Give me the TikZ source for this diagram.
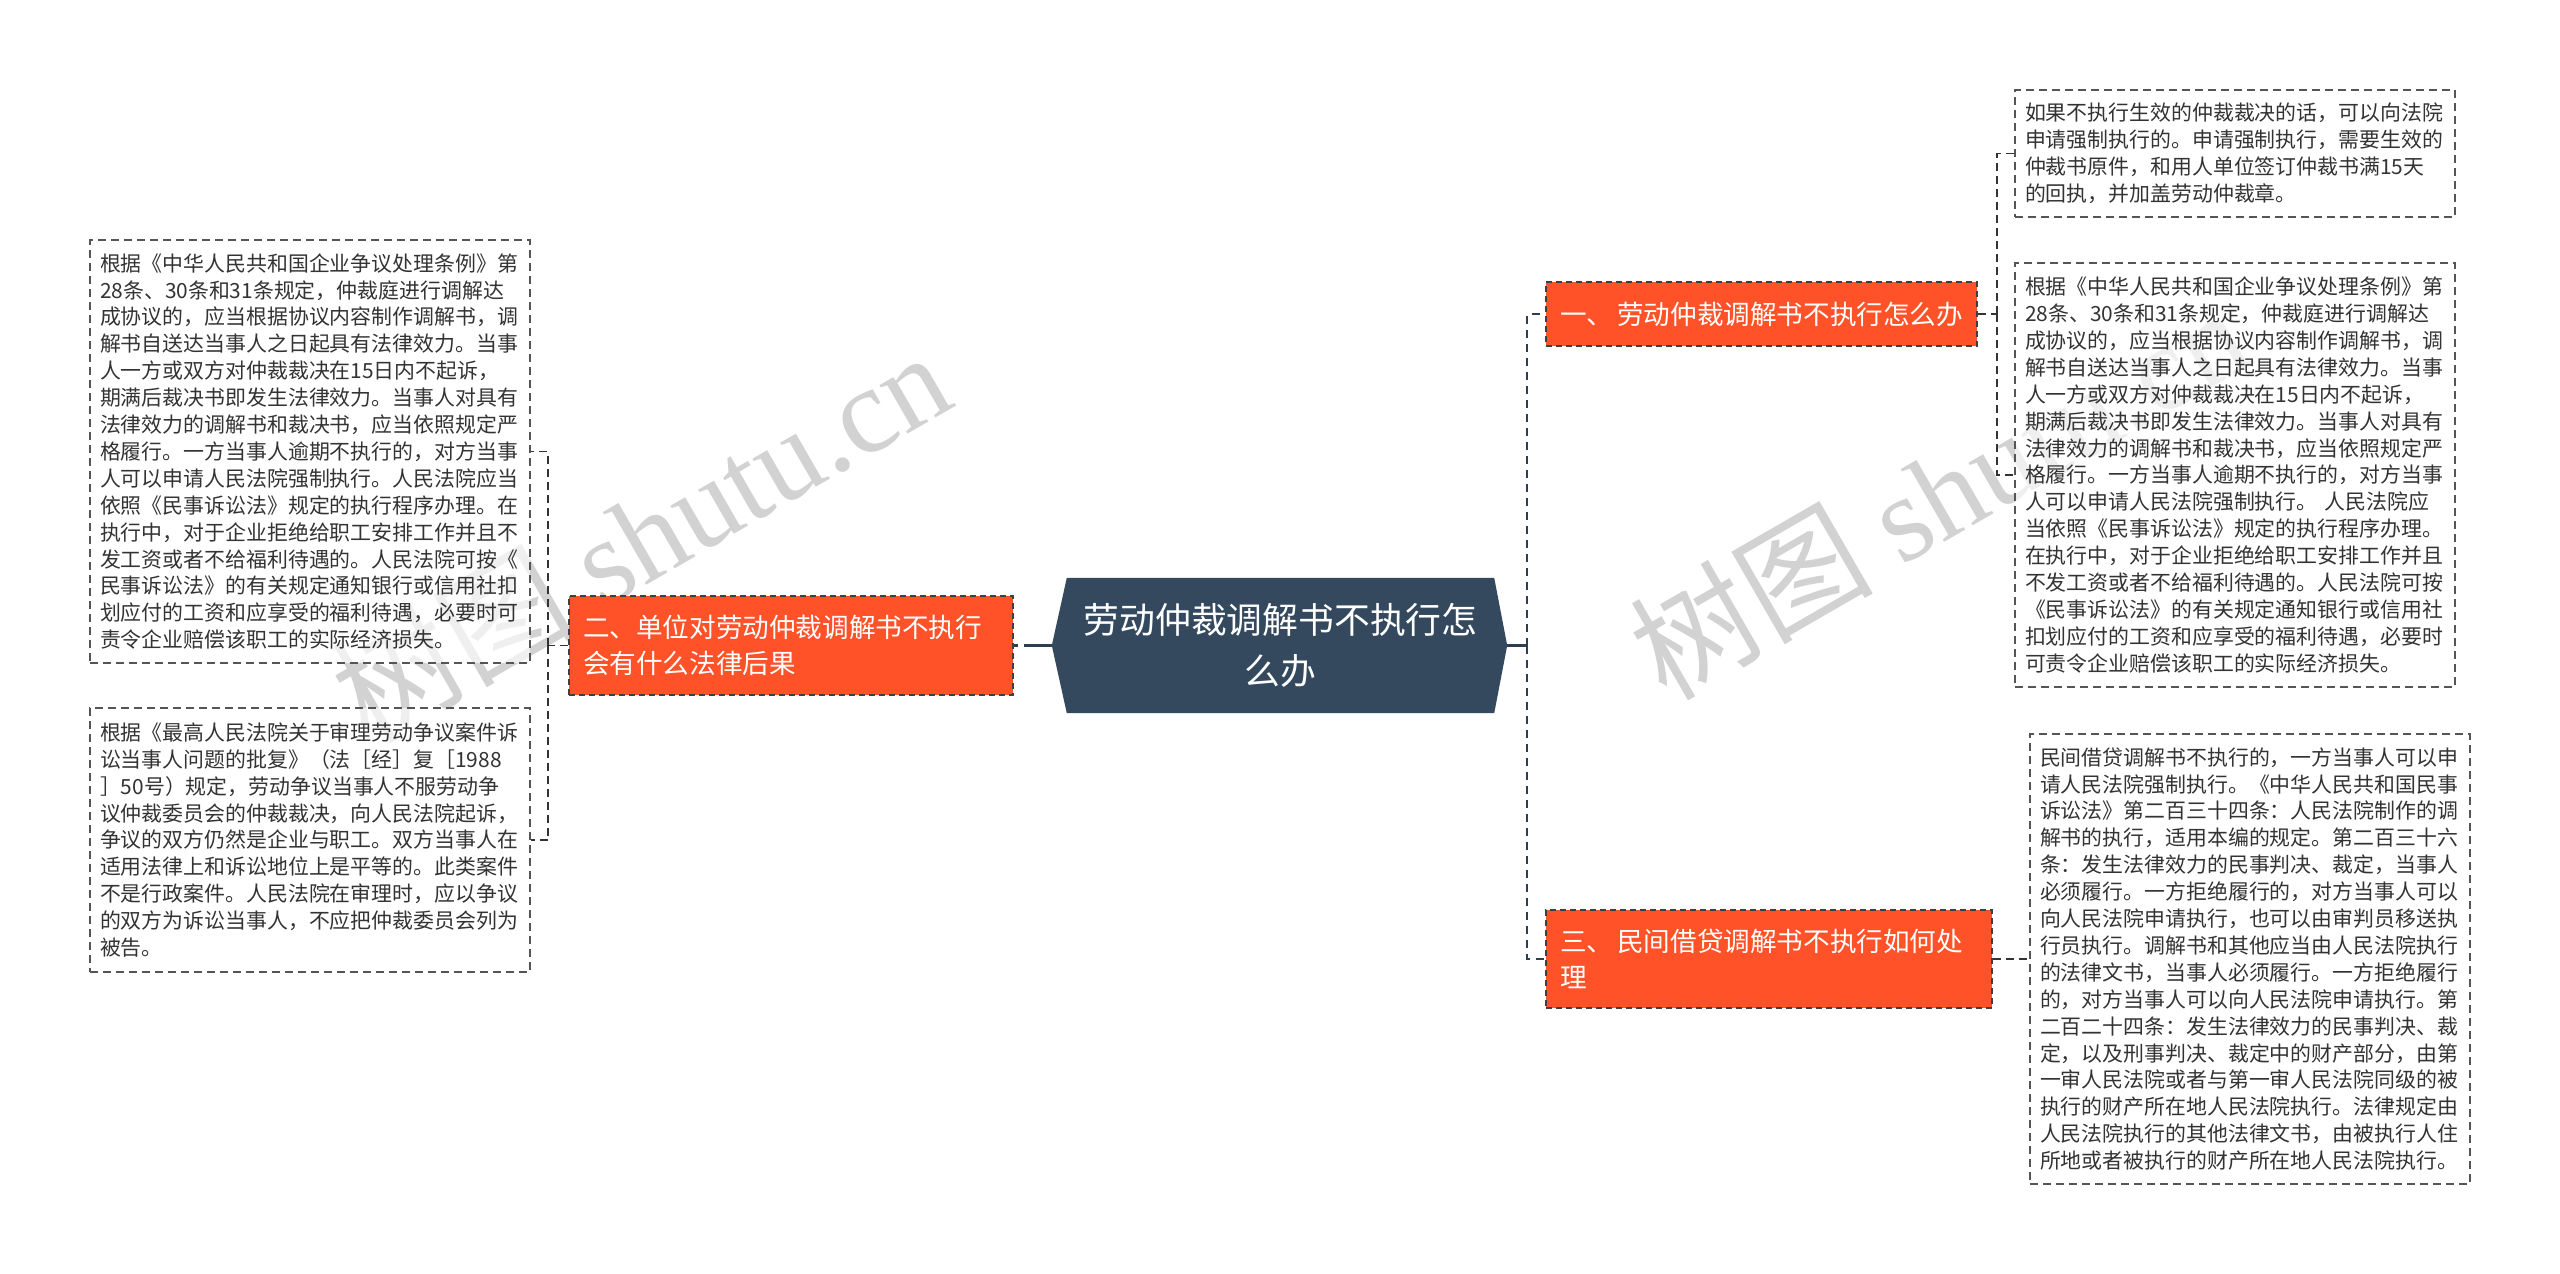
\documentclass[tikz,border=0pt]{standalone}
\usepackage{fontspec}
\setmainfont{Noto Sans CJK SC}
\newfontfamily\wmlatin{Liberation Serif}
\definecolor{cdark}{HTML}{34495E}
\definecolor{corange}{HTML}{FF5228}
\definecolor{ctext}{HTML}{333333}
\definecolor{cline}{HTML}{2C3E50}
\definecolor{cborder}{HTML}{555555}
\definecolor{cwm}{HTML}{D2D2D2}
\pgfdeclarelayer{bg}
\pgfsetlayers{bg,main}
\tikzset{
  leaf/.style={draw=cborder, line width=1.6pt, dash pattern=on 8pt off 5pt,
    fill=white, fill opacity=0.65, text opacity=1, text=ctext, align=left,
    text width=420pt, inner xsep=10pt, inner ysep=0pt,
    font=\fontsize{20.9pt}{26.9pt}\selectfont},
  branch/.style={fill=corange, draw=black!75, line width=1.4pt,
    dash pattern=on 6pt off 4pt, text=white, align=left, inner xsep=14pt,
    inner ysep=0pt, font=\fontsize{26.6pt}{35.5pt}\selectfont},
  ctr/.style={text=white, align=center, inner sep=0pt,
    minimum width=427pt, minimum height=135pt,
    font=\fontsize{35.8pt}{51pt}\selectfont},
  wm/.style={text=cwm, inner sep=0pt, font=\fontsize{122pt}{122pt}\selectfont},
  connL/.style={draw=black!80, line width=1.6pt, dash pattern=on 8pt off 5pt},
  connR/.style={draw=cline, line width=2.8pt, dash pattern=on 8pt off 6pt},
  cmain/.style={draw=cline, line width=2.6pt}
}
\begin{document}
\begin{tikzpicture}[x=1pt,y=-1pt]
\useasboundingbox (0,0) rectangle (2560,1274);

% central node
\node[ctr] (C) at (1280.5,645.5) {劳动仲裁调解书不执行怎\\么办};
\coordinate (Cl) at ([xshift=-15pt]C.west);
\coordinate (Cr) at ([xshift=13pt]C.east);

\begin{pgfonlayer}{bg}
  \fill[white] (0,0) rectangle (2560,1274);
  \node[wm, rotate=30] (W1) at (640,535) {树图 {\wmlatin shutu.cn}};
  \node[wm, rotate=30] (W2) at (1938,492) {树图 {\wmlatin shutu.cn}};
  \fill[cdark] (C.north west) -- (C.north east) -- (Cr) -- (C.south east)
     -- (C.south west) -- (Cl) -- cycle;
\end{pgfonlayer}

% branches
\node[branch, text width=416pt, minimum height=99pt] (B2) at (791,645.5)
  {二、单位对劳动仲裁调解书不执行\\会有什么法律后果};
\node[branch, text width=403pt, minimum height=64pt] (B1) at (1761.5,314)
  {\mbox{一、\hspace{4pt}劳动仲裁调解书不执行怎么办}};
\node[branch, text width=418pt, minimum height=98pt] (B3) at (1769,959)
  {\mbox{三、\hspace{4pt}民间借贷调解书不执行如何处}\\理};

% leaves left
\node[leaf, minimum height=423pt] (L1) at (310,451.5) {根据《中华人民共和国企业争议处理条例》第\\
28条、30条和31条规定，仲裁庭进行调解达\\
成协议的，应当根据协议内容制作调解书，调\\
解书自送达当事人之日起具有法律效力。当事\\
人一方或双方对仲裁裁决在15日内不起诉，\\
期满后裁决书即发生法律效力。当事人对具有\\
法律效力的调解书和裁决书，应当依照规定严\\
格履行。一方当事人逾期不执行的，对方当事\\
人可以申请人民法院强制执行。人民法院应当\\
依照《民事诉讼法》规定的执行程序办理。在\\
执行中，对于企业拒绝给职工安排工作并且不\\
发工资或者不给福利待遇的。人民法院可按《\\
民事诉讼法》的有关规定通知银行或信用社扣\\
划应付的工资和应享受的福利待遇，必要时可\\
责令企业赔偿该职工的实际经济损失。};

\node[leaf, minimum height=264pt] (L2) at (310,840) {根据《最高人民法院关于审理劳动争议案件诉\\
讼当事人问题的批复》（法［经］复［1988\\
］50号）规定，劳动争议当事人不服劳动争\\
议仲裁委员会的仲裁裁决，向人民法院起诉，\\
争议的双方仍然是企业与职工。双方当事人在\\
适用法律上和诉讼地位上是平等的。此类案件\\
不是行政案件。人民法院在审理时，应以争议\\
的双方为诉讼当事人，不应把仲裁委员会列为\\
被告。};

% leaves right
\node[leaf, minimum height=127pt] (R1) at (2235,153.5) {如果不执行生效的仲裁裁决的话，可以向法院\\
申请强制执行的。申请强制执行，需要生效的\\
仲裁书原件，和用人单位签订仲裁书满15天\\
的回执，并加盖劳动仲裁章。};

\node[leaf, minimum height=424pt] (R2) at (2235,475) {根据《中华人民共和国企业争议处理条例》第\\
28条、30条和31条规定，仲裁庭进行调解达\\
成协议的，应当根据协议内容制作调解书，调\\
解书自送达当事人之日起具有法律效力。当事\\
人一方或双方对仲裁裁决在15日内不起诉，\\
期满后裁决书即发生法律效力。当事人对具有\\
法律效力的调解书和裁决书，应当依照规定严\\
格履行。一方当事人逾期不执行的，对方当事\\
人可以申请人民法院强制执行。~人民法院应\\
当依照《民事诉讼法》规定的执行程序办理。\\
在执行中，对于企业拒绝给职工安排工作并且\\
不发工资或者不给福利待遇的。人民法院可按\\
《民事诉讼法》的有关规定通知银行或信用社\\
扣划应付的工资和应享受的福利待遇，必要时\\
可责令企业赔偿该职工的实际经济损失。};

\node[leaf, minimum height=450pt] (R3) at (2250,959) {民间借贷调解书不执行的，一方当事人可以申\\
请人民法院强制执行。《中华人民共和国民事\\
诉讼法》第二百三十四条：人民法院制作的调\\
解书的执行，适用本编的规定。第二百三十六\\
条：发生法律效力的民事判决、裁定，当事人\\
必须履行。一方拒绝履行的，对方当事人可以\\
向人民法院申请执行，也可以由审判员移送执\\
行员执行。调解书和其他应当由人民法院执行\\
的法律文书，当事人必须履行。一方拒绝履行\\
的，对方当事人可以向人民法院申请执行。第\\
二百二十四条：发生法律效力的民事判决、裁\\
定，以及刑事判决、裁定中的财产部分，由第\\
一审人民法院或者与第一审人民法院同级的被\\
执行的财产所在地人民法院执行。法律规定由\\
人民法院执行的其他法律文书，由被执行人住\\
所地或者被执行的财产所在地人民法院执行。};

% connectors
\draw[cmain, dash pattern=on 28pt off 6pt] (Cl) -- (B2.east);
\coordinate (JL) at (548,645.5);
\draw[connL] (B2.west) -- (JL);
\draw[connL] (JL) |- (L1.east);
\draw[connL] (JL) |- (L2.east);

\coordinate (JR) at (1527,645.5);
\draw[cmain] (Cr) -- (JR);
\draw[connR] (JR) |- (B1.west);
\draw[connR] (JR) |- (B3.west);

\coordinate (J1) at (1997,314);
\draw[connL] (B1.east) -- (J1);
\draw[connL] (J1) |- (R1.west);
\draw[connL] (J1) |- (R2.west);
\draw[connL] (B3.east) -- (R3.west);
\end{tikzpicture}
\end{document}
